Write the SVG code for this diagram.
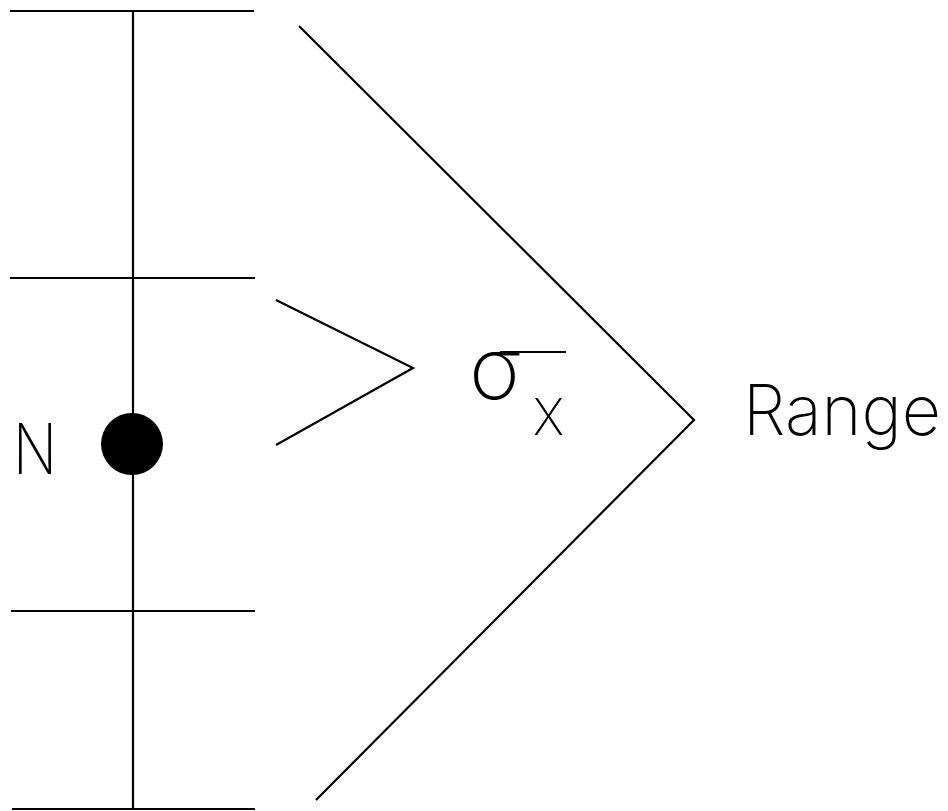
<svg xmlns="http://www.w3.org/2000/svg" width="948" height="811" viewBox="0 0 948 811">
<style>
.ln{stroke:#000;stroke-width:2.2;fill:none;stroke-linecap:butt}
.t{font-family:"Inter","Liberation Sans",Arial,sans-serif;font-weight:200;fill:#000}
</style>
<rect width="948" height="811" fill="#fff"/>
<g id="connectors">
<line class="ln" x1="133" y1="11" x2="133" y2="809"/>
<line class="ln" x1="10" y1="11" x2="254" y2="11"/>
<line class="ln" x1="10" y1="278" x2="255" y2="278"/>
<line class="ln" x1="11" y1="611" x2="255" y2="611"/>
<line class="ln" x1="12" y1="809" x2="255" y2="809"/>
<polyline class="ln" points="276,300 413,368 276,445"/>
<polyline class="ln" points="299,26 694,420 316,800"/>
</g>
<g id="node-dot">
<circle cx="132" cy="444" r="31" fill="#000"/>
</g>
<g id="label-N">
<text class="t" x="13" y="474" font-size="70" textLength="44" lengthAdjust="spacingAndGlyphs">N</text>
</g>
<g id="label-sigma">
<text class="t" x="469" y="399" font-size="87">σ</text>
<line class="ln" x1="500" y1="352" x2="566" y2="352"/>
<text class="t" x="533" y="435" font-size="50" textLength="31" lengthAdjust="spacingAndGlyphs">X</text>
</g>
<g id="label-range">
<text class="t" x="743" y="435" font-size="70" textLength="198" lengthAdjust="spacingAndGlyphs">Range</text>
</g>
</svg>
